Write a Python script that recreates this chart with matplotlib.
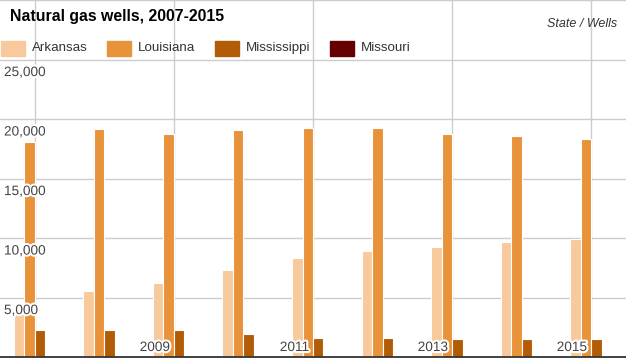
"""Natural gas wells by state, 2007-2015."""
import matplotlib
matplotlib.use("Agg")
import matplotlib.pyplot as plt
import matplotlib.patheffects as pe
import matplotlib.transforms as mtransforms
import numpy as np

plt.rcParams["font.family"] = ["Liberation Sans", "DejaVu Sans"]

years = [2007, 2008, 2009, 2010, 2011, 2012, 2013, 2014, 2015]
states = ["Arkansas", "Louisiana", "Mississippi", "Missouri"]
arkansas = [4400, 5570, 6240, 7310, 8320, 8910, 9240, 9660, 9920]
louisiana = [18070, 19160, 18740, 19080, 19240, 19240, 18740, 18570, 18320]
mississippi = [2270, 2270, 2270, 1930, 1600, 1600, 1510, 1510, 1510]
missouri = [0, 0, 0, 0, 0, 0, 0, 0, 0]
colors = ["#f8ca9b", "#e8923a", "#b35c07", "#660000"]
y_ticks = [5000, 10000, 15000, 20000, 25000]
year_labels = [2009, 2011, 2013, 2015]

fig = plt.figure(figsize=(6.26, 3.58), dpi=100)
ax = fig.add_axes([0, 1 / 358, 1, 357 / 358])

x = np.array(years, dtype=float)
width = 0.151
series = [arkansas, louisiana, mississippi, missouri]
for i, (vals, c) in enumerate(zip(series, colors)):
    ax.bar(x + (i - 1.5) * width, vals, width=width, color=c,
           edgecolor="white", linewidth=0.8, zorder=3)

ax.set_xlim(2006.497, 2015.503)
ax.set_ylim(0, 30000)

# gridlines
for yv in y_ticks + [30000]:
    ax.axhline(yv, color="#cccccc", linewidth=1, zorder=1)
for yr in range(2007, 2016, 2):
    ax.axvline(yr, color="#cccccc", linewidth=1, zorder=1)

for s in ["top", "right", "left"]:
    ax.spines[s].set_visible(False)
ax.spines["bottom"].set_color("#333333")
ax.spines["bottom"].set_linewidth(1.3)
ax.spines["bottom"].set_zorder(5)
ax.set_xticks([])
ax.set_yticks([])

halo = [pe.withStroke(linewidth=3, foreground="white")]

# y labels just under their gridlines
ytrans = mtransforms.blended_transform_factory(ax.transAxes, ax.transData)
offset = mtransforms.ScaledTranslation(0, -4 / 72, fig.dpi_scale_trans)
for yv in y_ticks:
    ax.text(4 / 626, yv, f"{yv:,}", transform=ytrans + offset,
            ha="left", va="top", fontsize=9.8, color="#444444",
            path_effects=halo, zorder=6)

# year labels left of their gridlines
xtrans = mtransforms.blended_transform_factory(ax.transData, ax.transAxes)
xoff = mtransforms.ScaledTranslation(-3 / 72, 0, fig.dpi_scale_trans)
for yr in year_labels:
    ax.text(yr, 10 / 357, str(yr), transform=xtrans + xoff,
            ha="right", va="center", fontsize=9.8, color="#444444",
            path_effects=halo, zorder=6)

# header
fig.text(10 / 626, 1 - 17 / 358, "Natural gas wells, 2007-2015",
         fontsize=11.4, fontweight="bold", color="#000000", va="center")
fig.text(617 / 626, 1 - 24 / 358, "State / Wells", fontsize=9,
         style="italic", color="#333333", ha="right", va="center")

# legend row
leg_x = [1, 107, 215, 330]
for lx, name, c in zip(leg_x, states, colors):
    fig.patches.append(plt.Rectangle((lx / 626, 1 - 56 / 358), 24 / 626, 15 / 358,
                                     transform=fig.transFigure, color=c,
                                     zorder=7))
    fig.text((lx + 31) / 626, 1 - 48 / 358, name, fontsize=9.6,
             color="#333333", va="center", zorder=7)

fig.savefig("out.png", dpi=100)
